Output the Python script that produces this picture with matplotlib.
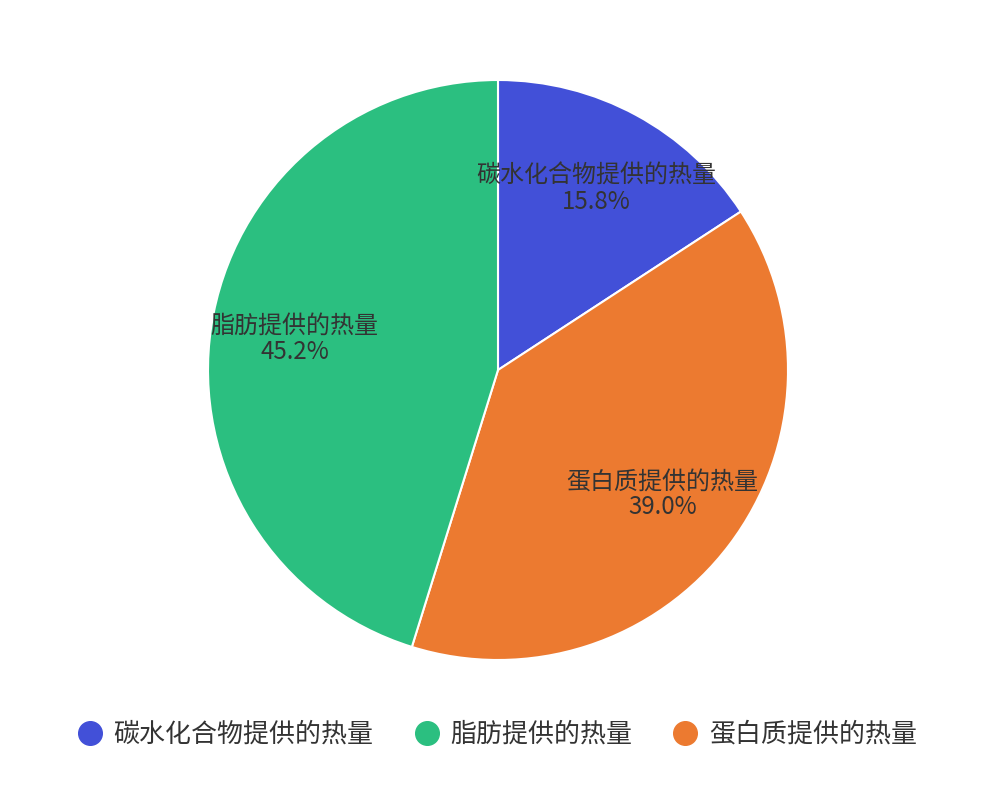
import matplotlib.pyplot as plt
from matplotlib.lines import Line2D

plt.rcParams['font.family'] = ['Noto Sans CJK SC', 'DejaVu Sans']

# legend order
names = ["碳水化合物提供的热量", "脂肪提供的热量", "蛋白质提供的热量"]
shares = [15.8, 45.2, 39.0]
colors = ["#4250D8", "#2BBF80", "#EC7A30"]

# drawn clockwise from 12 o'clock: carbs, protein, fat
draw_order = [0, 2, 1]

fig = plt.figure(figsize=(10, 8), dpi=100)
ax = fig.add_axes([0.208, 0.175, 0.58, 0.725])

vals = [shares[i] for i in draw_order]
cols = [colors[i] for i in draw_order]
labs = ["%s\n%.1f%%" % (names[i], shares[i]) for i in draw_order]

wedges, texts = ax.pie(vals, colors=cols, labels=labs, startangle=90,
                       counterclock=False, labeldistance=0.71,
                       wedgeprops=dict(edgecolor="white", linewidth=1.5),
                       textprops=dict(fontsize=17.3, color="#333333",
                                      ha="center", va="center",
                                      linespacing=1.0))
for t in texts:
    t.set_horizontalalignment("center")
ax.set_xlim(-1, 1)
ax.set_ylim(-1, 1)
ax.set_aspect("equal")

handles = [Line2D([], [], marker="o", linestyle="", markersize=17,
                  markerfacecolor=c, markeredgecolor=c) for c in colors]
fig.legend(handles, names, loc="center", bbox_to_anchor=(0.497, 0.082),
           ncol=3, frameon=False, fontsize=18.7, handlelength=1.0,
           handletextpad=0.4, columnspacing=1.55, labelcolor="#333333")

fig.savefig("out.png", dpi=100, facecolor="white")
